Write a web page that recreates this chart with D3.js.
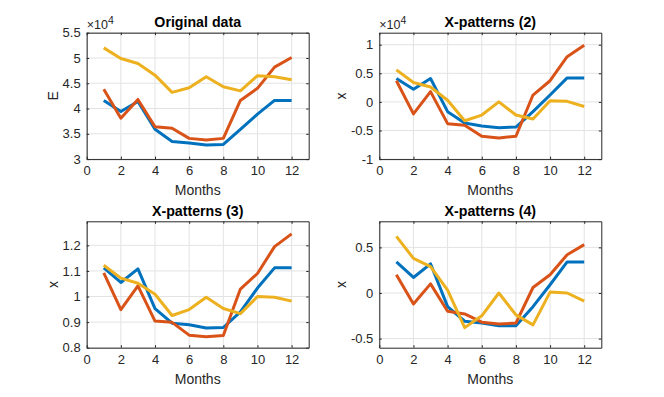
<!DOCTYPE html>
<html>
<head>
<meta charset="utf-8">
<script src="https://cdn.jsdelivr.net/npm/d3@7"></script>
<style>
  body { margin: 0; background: #fff; }
  svg { display: block; font-family: "Liberation Sans", Arial, sans-serif; }
</style>
</head>
<body>
<svg id="chart" width="664" height="397"></svg>
<script>
const months = [1, 2, 3, 4, 5, 6, 7, 8, 9, 10, 11, 12];
const xTicks = [0, 2, 4, 6, 8, 10, 12];
const colors = ['#0072BD', '#D95319', '#EDB120'];

// Original data (E)
const origBlue   = [41580, 39400, 41400, 35900, 33500, 33200, 32800, 32900, 35900, 38900, 41600, 41600];
const origRed    = [43800, 38100, 41800, 36400, 36100, 34100, 33800, 34100, 41600, 44000, 48200, 50100];
const origYellow = [52000, 49900, 48900, 46600, 43200, 44100, 46300, 44300, 43500, 46500, 46300, 45700];

// X-patterns (2)
const p2Blue   = [4100, 2200, 4100, -1700, -3700, -4200, -4500, -4400, -1700, 1200, 4200, 4200];
const p2Red    = [3700, -2100, 1800, -3800, -4100, -6000, -6300, -6000, 1200, 3700, 7900, 9900];
const p2Yellow = [5600, 3400, 2600, 300, -3300, -2300, 0, -2300, -3000, 200, 100, -800];

// X-patterns (3)
const p3Blue   = [1.112, 1.055, 1.108, 0.953, 0.896, 0.890, 0.877, 0.879, 0.940, 1.033, 1.112, 1.112];
const p3Red    = [1.092, 0.949, 1.042, 0.904, 0.899, 0.849, 0.843, 0.848, 1.029, 1.090, 1.195, 1.245];
const p3Yellow = [1.122, 1.072, 1.052, 1.009, 0.926, 0.949, 0.997, 0.953, 0.933, 1.000, 0.997, 0.982];

// X-patterns (4)
const p4Blue   = [0.34, 0.17, 0.32, -0.15, -0.31, -0.33, -0.36, -0.36, -0.15, 0.09, 0.34, 0.34];
const p4Red    = [0.20, -0.12, 0.10, -0.20, -0.23, -0.32, -0.34, -0.33, 0.06, 0.20, 0.42, 0.53];
const p4Yellow = [0.62, 0.38, 0.29, 0.03, -0.38, -0.25, 0.00, -0.24, -0.35, 0.01, 0.00, -0.09];

const panels = [
  { title: 'Original data', ylabel: 'E', series: [origBlue, origRed, origYellow],
    ydomain: [30000, 55000], yticks: [30000, 35000, 40000, 45000, 50000, 55000], exp: true },
  { title: 'X-patterns (2)', ylabel: 'x', series: [p2Blue, p2Red, p2Yellow],
    ydomain: [-10000, 12100], yticks: [-10000, -5000, 0, 5000, 10000], exp: true },
  { title: 'X-patterns (3)', ylabel: 'x', series: [p3Blue, p3Red, p3Yellow],
    ydomain: [0.8, 1.294], yticks: [0.8, 0.9, 1.0, 1.1, 1.2], exp: false },
  { title: 'X-patterns (4)', ylabel: 'x', series: [p4Blue, p4Red, p4Yellow],
    ydomain: [-0.6, 0.786], yticks: [-0.5, 0, 0.5], exp: false }
];

const svg = d3.select('#chart');
const lefts = [86.7, 379.3];
const tops = [32.7, 221.3];
const pw = 222, ph = 126.4;
const axisColor = '#262626';
const tickLen = 2.5;

const fmt = (d, exp) => String(+((exp ? d / 1e4 : d).toFixed(3)));

panels.forEach((p, i) => {
  const left = lefts[i % 2], top = tops[Math.floor(i / 2)];
  const g = svg.append('g').attr('transform', `translate(${left},${top})`);

  const x = d3.scaleLinear().domain([0, 13]).range([0, pw]);
  const y = d3.scaleLinear().domain(p.ydomain).range([ph, 0]);

  // grid
  g.append('g').selectAll('line.gx')
    .data(xTicks).join('line')
    .attr('x1', d => x(d)).attr('x2', d => x(d))
    .attr('y1', 0).attr('y2', ph)
    .attr('stroke', '#e3e3e3').attr('stroke-width', 1);
  g.append('g').selectAll('line.gy')
    .data(p.yticks).join('line')
    .attr('x1', 0).attr('x2', pw)
    .attr('y1', d => y(d)).attr('y2', d => y(d))
    .attr('stroke', '#e3e3e3').attr('stroke-width', 1);

  // lines
  const line = d3.line().x((d, j) => x(months[j])).y(d => y(d));
  p.series.forEach((s, k) => {
    g.append('path')
      .datum(s)
      .attr('d', line)
      .attr('fill', 'none')
      .attr('stroke', colors[k])
      .attr('stroke-width', 3)
      .attr('stroke-linejoin', 'round');
  });

  // axes with inward ticks (mirrored)
  const xb = d3.axisBottom(x).tickValues(xTicks).tickSizeInner(-tickLen).tickSizeOuter(0).tickPadding(7);
  const xt = d3.axisTop(x).tickValues(xTicks).tickSizeInner(-tickLen).tickSizeOuter(0).tickFormat('');
  const yl = d3.axisLeft(y).tickValues(p.yticks).tickSizeInner(-tickLen).tickSizeOuter(0).tickPadding(6)
    .tickFormat(d => fmt(d, p.exp));
  const yr = d3.axisRight(y).tickValues(p.yticks).tickSizeInner(-tickLen).tickSizeOuter(0).tickFormat('');

  const styleAxis = sel => {
    sel.selectAll('path.domain').attr('stroke', axisColor).attr('stroke-width', 1);
    sel.selectAll('.tick line').attr('stroke', axisColor);
    sel.selectAll('.tick text').attr('fill', axisColor).style('font-size', '13px')
      .style('font-family', '"Liberation Sans", Arial, sans-serif');
  };
  g.append('g').attr('transform', `translate(0,${ph})`).call(xb).call(styleAxis);
  g.append('g').call(xt).call(styleAxis);
  g.append('g').call(yl).call(styleAxis);
  g.append('g').attr('transform', `translate(${pw},0)`).call(yr).call(styleAxis);

  // title
  g.append('text')
    .attr('x', pw / 2).attr('y', -5.5)
    .attr('text-anchor', 'middle')
    .attr('font-weight', 'bold').attr('font-size', 14.2)
    .attr('fill', '#000')
    .text(p.title);

  // x label
  g.append('text')
    .attr('x', pw / 2).attr('y', ph + 36)
    .attr('text-anchor', 'middle')
    .attr('font-size', 14).attr('fill', axisColor)
    .text('Months');

  // y label
  const ylx = i % 2 === 0 ? -29 : -33;
  g.append('text')
    .attr('transform', `translate(${ylx},${ph / 2}) rotate(-90)`)
    .attr('text-anchor', 'middle')
    .attr('font-size', 14).attr('fill', axisColor)
    .text(p.ylabel);

  // exponent
  if (p.exp) {
    const t = g.append('text')
      .attr('x', 0).attr('y', -3.5)
      .attr('font-size', 12.5).attr('fill', axisColor);
    t.append('tspan').text('\u00d710');
    t.append('tspan').attr('dy', -5).attr('font-size', 10.5).text('4');
  }
});
</script>
</body>
</html>
